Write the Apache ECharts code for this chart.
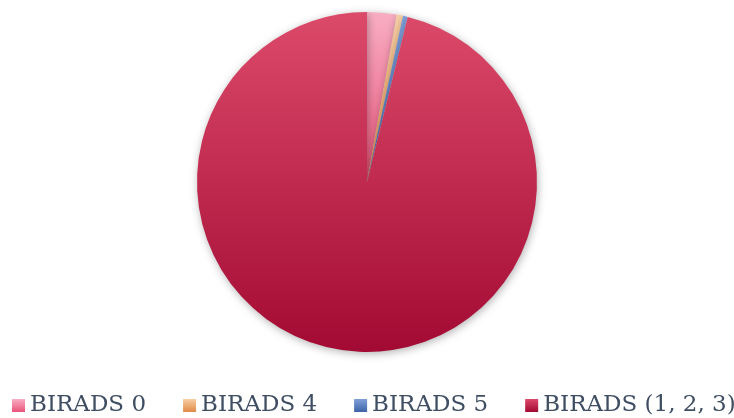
<!DOCTYPE html>
<html>
<head>
<meta charset="utf-8">
<script src="https://cdn.jsdelivr.net/npm/echarts@6/dist/echarts.min.js"></script>
<style>
  html, body { margin: 0; padding: 0; background: #fff; }
  #main { width: 734px; height: 418px; }
</style>
</head>
<body>
<div id="main"></div>
<script>
// share of each BIRADS category (%)
var categories = ['BIRADS 0', 'BIRADS 4', 'BIRADS 5', 'BIRADS (1, 2, 3)'];
var values = [2.8, 0.6, 0.45, 96.15];
// light (top) -> dark (bottom) for each slice
var topColors = ['#f8aec4', '#f7cfa6', '#7f9fd8', '#dc4a6a'];
var bottomColors = ['#ea5479', '#e08a45', '#3d64a8', '#a30a33'];

var chart = echarts.init(document.getElementById('main'));

function grad(i) {
  return new echarts.graphic.LinearGradient(0, 0, 0, 1, [
    { offset: 0, color: topColors[i] },
    { offset: 1, color: bottomColors[i] }
  ]);
}

var pieData = categories.map(function (name, i) {
  return { name: name, value: values[i], itemStyle: { color: grad(i) } };
});

var option = {
  animation: false,
  legend: {
    top: 394,
    left: 12,
    width: 800,
    padding: 0,
    icon: 'rect',
    itemWidth: 13,
    itemHeight: 13,
    itemGap: 37,
    textStyle: {
      fontFamily: 'DejaVu Serif',
      fontSize: 23,
      color: '#3f4e63'
    },
    data: categories
  },
  series: [{
    type: 'pie',
    center: [367, 182],
    radius: 170,
    startAngle: 90,
    clockwise: true,
    label: { show: false },
    labelLine: { show: false },
    itemStyle: {
      borderWidth: 0,
      shadowBlur: 8,
      shadowColor: 'rgba(0,0,0,0.3)',
      shadowOffsetX: 1,
      shadowOffsetY: 2
    },
    emphasis: { disabled: true },
    data: pieData
  }]
};

chart.setOption(option);
</script>
</body>
</html>
